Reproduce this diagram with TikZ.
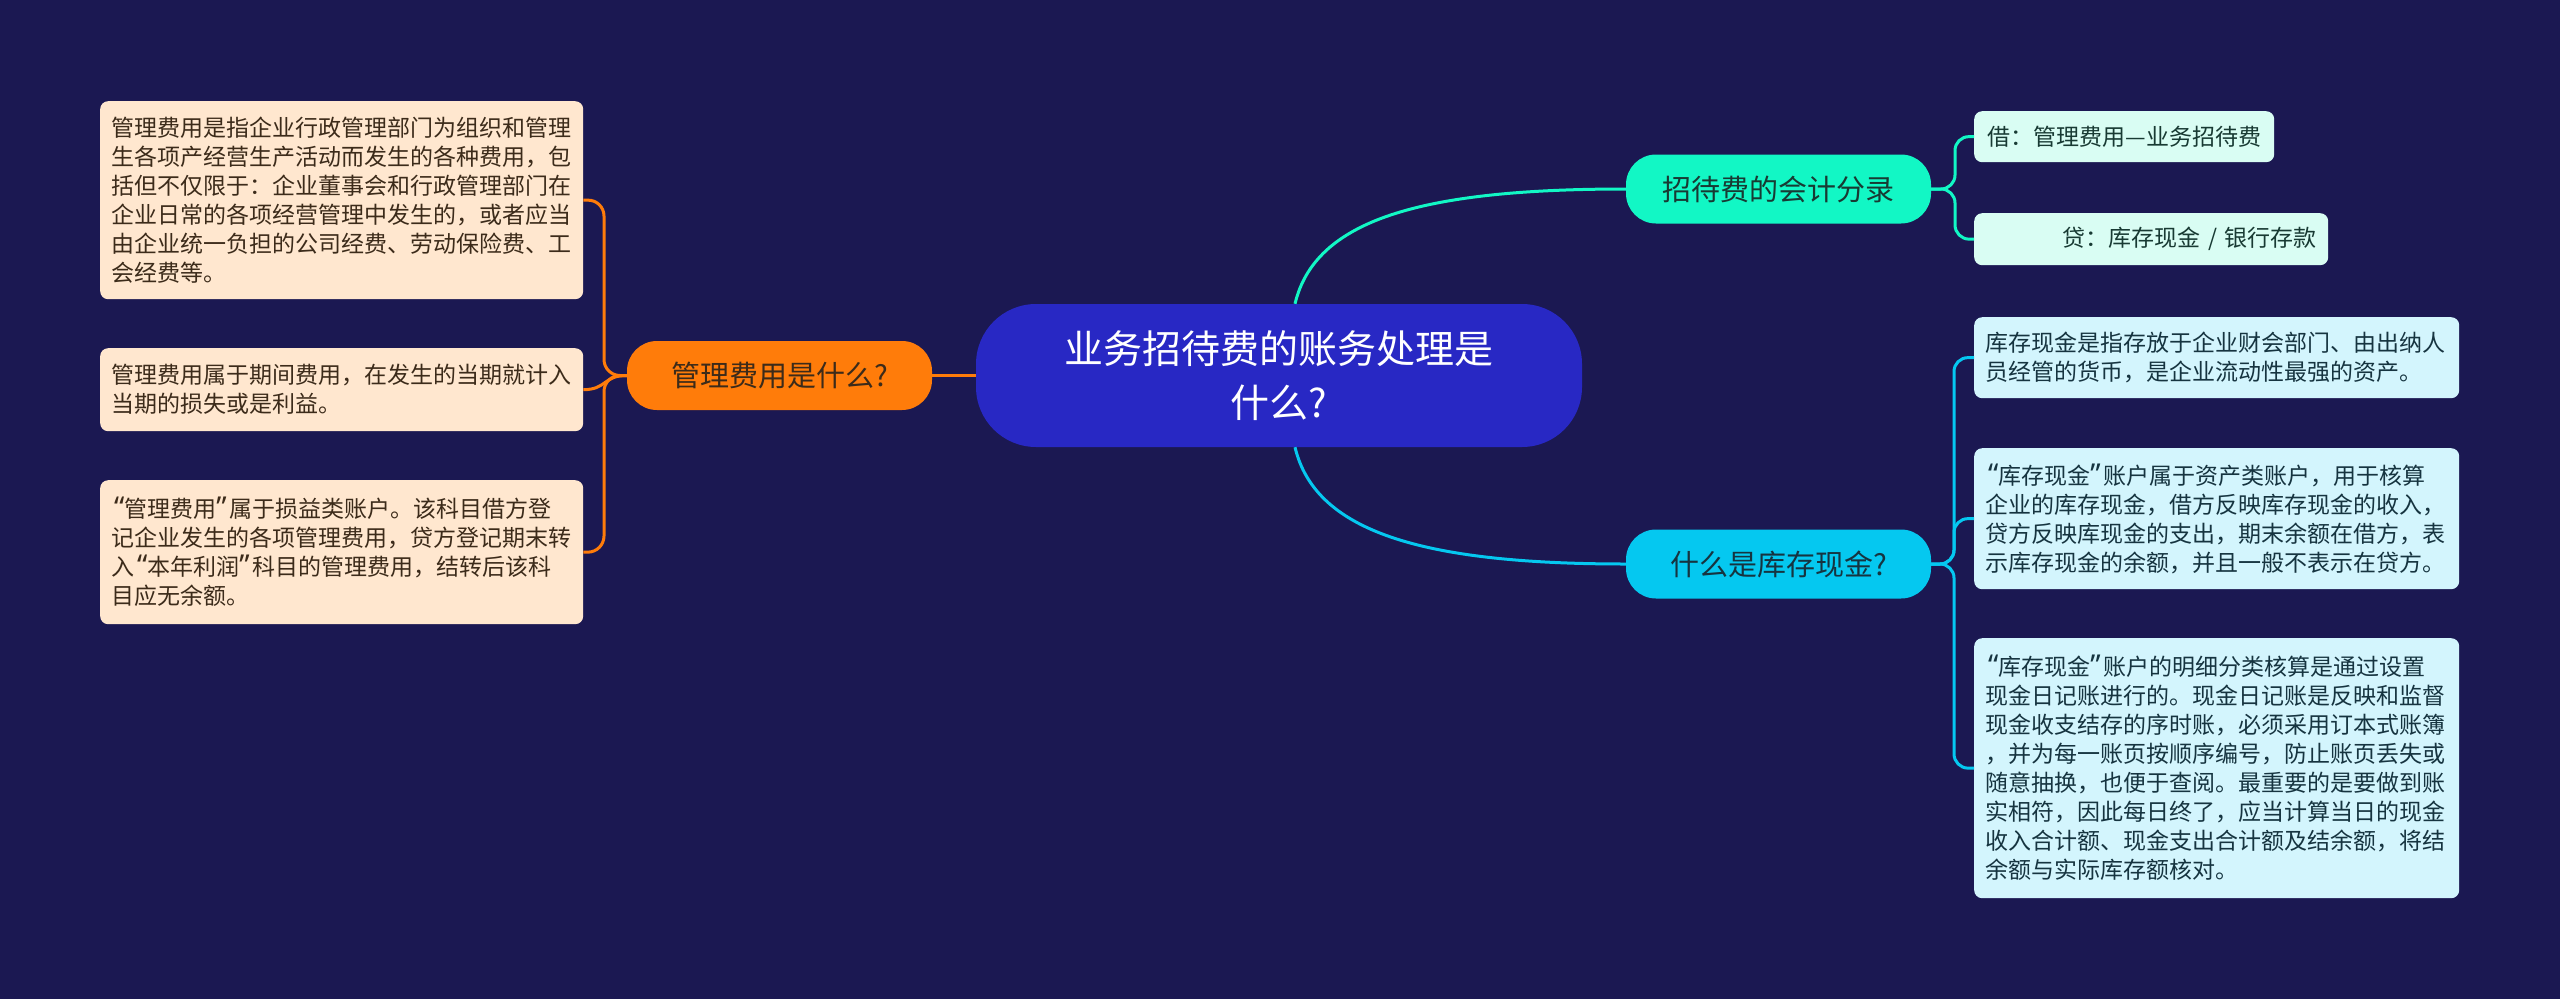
\documentclass[tikz,border=0pt]{standalone}
\usepackage{fontspec}
\setmainfont{Noto Sans CJK SC}
\newfontfamily\qfont{Noto Sans}[Scale=1.25]
\newcommand{\oq}{\makebox[0.55em][r]{\qfont “}}
\newcommand{\cq}{\makebox[0.55em][l]{\qfont ”}}
\definecolor{bg}{HTML}{1B1852}
\definecolor{centerC}{HTML}{2828C4}
\definecolor{orangeC}{HTML}{FF7C0A}
\definecolor{greenC}{HTML}{12F7C5}
\definecolor{cyanC}{HTML}{05C8F0}
\definecolor{peach}{HTML}{FFE7CF}
\definecolor{mint}{HTML}{D9FDF3}
\definecolor{lcyan}{HTML}{D3F5FD}
\definecolor{brownT}{HTML}{3C2B1A}
\definecolor{greenT}{HTML}{183A33}
\definecolor{cyanT}{HTML}{163440}
\begin{document}
\begin{tikzpicture}[x=1pt,y=-1pt,
  conn/.style={line width=3pt},
  leaf/.style={rounded corners=8pt, inner xsep=11.5pt, inner ysep=0pt,
    font=\fontsize{23}{29}\selectfont},
  lbox/.style={leaf, fill=peach, text=brownT, text width=460pt, align=left, anchor=north west},
  gbox/.style={leaf, fill=mint, text=greenT, anchor=north west},
  cbox/.style={leaf, fill=lcyan, text=cyanT, text width=462pt, align=left, anchor=north west},
  topic/.style={rounded corners=30pt, inner sep=0pt, font=\fontsize{29}{36}\selectfont,
    minimum width=305pt, minimum height=69pt},
]
\useasboundingbox (0,0) rectangle (2560,999);
\fill[bg] (0,0) rectangle (2560,999);

% central topic
\node[fill=centerC, text=white, rounded corners=60pt, minimum width=606pt, minimum height=143pt,
  inner sep=0pt, align=center, font=\fontsize{39}{54}\selectfont] (center) at (1279,375.5)
  {业务招待费的账务处理是\\什么?};

% main topics
\node[topic, fill=orangeC, text=brownT] (mgmt) at (779.5,375.5) {管理费用是什么?};
\node[topic, fill=greenC, text=greenT] (entry) at (1778.5,189) {招待费的会计分录};
\node[topic, fill=cyanC, text=cyanT] (cash) at (1778.5,564) {什么是库存现金?};

% left leaves
\node[lbox, minimum height=198pt] (L1) at (100,101)
 {管理费用是指企业行政管理部门为组织和管理\\生各项产经营生产活动而发生的各种费用，包\\括但不仅限于：企业董事会和行政管理部门在\\企业日常的各项经营管理中发生的，或者应当\\由企业统一负担的公司经费、劳动保险费、工\\会经费等。};
\node[lbox, minimum height=83pt] (L2) at (100,348)
 {管理费用属于期间费用，在发生的当期就计入\\当期的损失或是利益。};
\node[lbox, minimum height=144pt] (L3) at (100,480)
 {\oq 管理费用\cq 属于损益类账户。该科目借方登\\记企业发生的各项管理费用，贷方登记期末转\\入\oq 本年利润\cq 科目的管理费用，结转后该科\\目应无余额。};

% right leaves (entry)
\node[gbox, minimum height=51pt, minimum width=300pt, align=left] (R1) at (1974,111)
 {借：管理费用—业务招待费};
\node[gbox, minimum height=52pt, text width=331pt, align=right] (R2) at (1974,213)
 {贷：库存现金 / 银行存款};

% right leaves (cash)
\node[cbox, minimum height=81pt] (R3) at (1974,317)
 {库存现金是指存放于企业财会部门、由出纳人\\员经管的货币，是企业流动性最强的资产。};
\node[cbox, minimum height=141pt] (R4) at (1974,448)
 {\oq 库存现金\cq 账户属于资产类账户，用于核算\\企业的库存现金，借方反映库存现金的收入，\\贷方反映库现金的支出，期末余额在借方，表\\示库存现金的余额，并且一般不表示在贷方。};
\node[cbox, minimum height=260pt] (R5) at (1974,638)
 {\oq 库存现金\cq 账户的明细分类核算是通过设置\\现金日记账进行的。现金日记账是反映和监督\\现金收支结存的序时账，必须采用订本式账簿\\，并为每一账页按顺序编号，防止账页丢失或\\随意抽换，也便于查阅。最重要的是要做到账\\实相符，因此每日终了，应当计算当日的现金\\收入合计额、现金支出合计额及结余额，将结\\余额与实际库存额核对。};

% connectors: center to main topics
\draw[conn, orangeC] (center.west) -- (mgmt.east);
\draw[conn, greenC] ([xshift=16pt]center.north) .. controls (1315,220) and (1420,189) .. (entry.west);
\draw[conn, cyanC] ([xshift=16pt]center.south) .. controls (1315,531) and (1420,564) .. (cash.west);

% left brackets
\draw[conn, orangeC, rounded corners=16pt] (mgmt.west) -- (604,375.5) -- (604,200) -- (L1.east);
\draw[conn, orangeC] (mgmt.west) .. controls (603,375.5) and (607,389.5) .. (L2.east);
\draw[conn, orangeC, rounded corners=16pt] (mgmt.west) -- (604,375.5) -- (604,552) -- (L3.east);

% right brackets (entry)
\draw[conn, greenC, rounded corners=14pt] (entry.east) -- (1955,189) -- (1955,136.5) -- (R1.west);
\draw[conn, greenC, rounded corners=14pt] (entry.east) -- (1955,189) -- (1955,239) -- (R2.west);

% right brackets (cash)
\draw[conn, cyanC, rounded corners=14pt] (cash.east) -- (1954,564) -- (1954,357.5) -- (R3.west);
\draw[conn, cyanC, rounded corners=14pt] (cash.east) -- (1954,564) -- (1954,518.5) -- (R4.west);
\draw[conn, cyanC, rounded corners=14pt] (cash.east) -- (1954,564) -- (1954,768) -- (R5.west);
\end{tikzpicture}
\end{document}
